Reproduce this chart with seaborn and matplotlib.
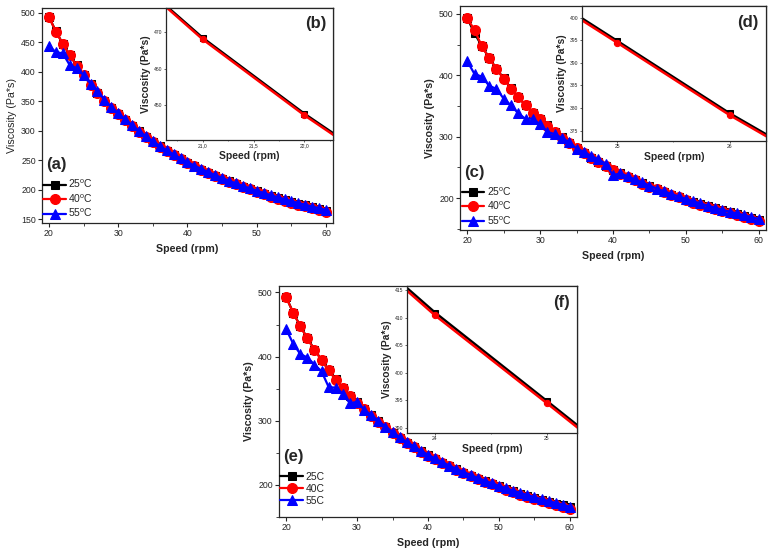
import matplotlib
matplotlib.use("Agg")
import matplotlib.pyplot as plt
from matplotlib.ticker import MultipleLocator, FixedLocator, FixedFormatter
import numpy as np
import seaborn as sns

# speed (rpm) and viscosity (Pa*s)
speed = np.arange(20, 61)

visc_25 = [493.0, 468.5, 447.6, 428.6, 410.9, 394.9, 378.8, 364.4, 351.3, 339.2,
           328.5, 318.3, 308.5, 299.0, 290.0, 281.6, 273.6, 266.1, 259.0, 252.3,
           246.0, 240.1, 234.5, 229.2, 224.1, 219.2, 214.5, 210.0, 205.7, 201.6,
           197.6, 193.8, 190.1, 186.6, 183.2, 179.9, 176.8, 173.8, 170.9, 168.1, 165.0]

visc_40 = [492.8, 468.1, 447.2, 428.2, 410.4, 394.5, 378.4, 364.0, 350.9, 338.8,
           328.1, 317.9, 308.1, 298.6, 289.6, 281.2, 273.2, 265.7, 258.6, 251.9,
           245.6, 239.7, 234.1, 228.8, 223.7, 218.8, 214.1, 209.6, 205.3, 201.2,
           196.5, 192.5, 188.7, 185.0, 181.7, 178.6, 175.2, 172.0, 168.8, 165.8, 162.6]

visc_40_c = [492.8, 474.0, 447.2, 428.2, 410.4, 394.5, 378.4, 364.0, 350.9, 338.8,
             328.1, 317.9, 308.1, 298.6, 289.6, 281.2, 273.2, 265.7, 258.6, 251.9,
             245.6, 239.7, 234.1, 228.8, 223.7, 218.8, 214.1, 209.6, 205.3, 201.2,
             196.5, 192.5, 188.7, 185.0, 181.7, 178.6, 175.2, 172.0, 168.8, 165.8, 162.6]

visc_55_a = [443.0, 433.5, 431.0, 411.5, 406.0, 394.0, 380.0, 367.0, 353.0, 340.5,
             330.0, 319.5, 309.5, 300.0, 291.0, 282.5, 274.5, 267.0, 260.0, 253.5,
             247.0, 241.2, 235.6, 230.2, 225.1, 220.2, 215.5, 211.0, 206.7, 202.6,
             198.6, 194.8, 191.1, 187.6, 184.2, 180.9, 177.8, 174.8, 171.9, 169.0, 166.0]

visc_55_c = [423.0, 402.0, 398.0, 383.0, 378.0, 362.0, 351.0, 338.0, 329.0, 329.5,
             320.0, 308.0, 304.0, 298.0, 291.0, 280.5, 275.5, 268.5, 263.0, 256.0,
             237.0, 240.5, 235.5, 230.5, 225.5, 220.5, 215.5, 211.0, 206.8, 202.7,
             198.7, 194.9, 191.2, 187.7, 184.3, 181.0, 177.9, 174.9, 172.0, 169.1, 166.0]

visc_55_e = [443.0, 420.0, 404.0, 398.5, 387.5, 377.0, 352.5, 351.5, 342.0, 327.0,
             329.5, 317.0, 309.0, 300.0, 291.0, 282.5, 274.5, 267.0, 260.0, 253.5,
             247.0, 241.2, 235.6, 230.2, 225.1, 220.2, 215.5, 211.0, 206.7, 202.6,
             198.6, 194.8, 191.1, 187.6, 184.2, 180.9, 177.8, 174.8, 171.9, 169.0, 166.0]

labels_deg = ["25$^\\mathregular{o}$C", "40$^\\mathregular{o}$C", "55$^\\mathregular{o}$C"]
labels_plain = ["25C", "40C", "55C"]

inset_b_xticks = [21.0, 21.5, 22.0]
inset_b_xlabels = ["21,0", "21,5", "22,0"]

colors = ["black", "red", "blue"]
markers = ["s", "o", "^"]
main_ms = [6.0, 7.2, 7.8]
inset_ms = [4.0, 4.5, 4.5]

sns.set_theme(style="ticks")
plt.rcParams["font.family"] = ["Liberation Sans", "DejaVu Sans"]
plt.rcParams["axes.linewidth"] = 0.9

fig = plt.figure(figsize=(7.76, 5.59), dpi=100)
W, H = 776, 559


def box(l, r, t, b):
    return [l / W, (H - b) / H, (r - l) / W, (b - t) / H]


def curves(ax, series, sizes, lw, labels=None):
    for i, vals in enumerate(series):
        sns.lineplot(x=speed, y=vals, ax=ax, color=colors[i], marker=markers[i],
                     markersize=sizes[i], markeredgecolor=colors[i], linewidth=lw,
                     label=None if labels is None else labels[i])
    if ax.get_legend() is not None:
        ax.get_legend().remove()


def main_panel(rect, series, labels, ylim, ystep, letter, letter_y, legend_y, ybold=True):
    ax = fig.add_axes(box(*rect))
    curves(ax, series, main_ms, 1.6, labels)
    ax.set_xlim(19, 61)
    ax.set_ylim(*ylim)
    ax.xaxis.set_major_locator(MultipleLocator(10))
    ax.xaxis.set_minor_locator(MultipleLocator(5))
    ax.yaxis.set_major_locator(MultipleLocator(ystep))
    ax.yaxis.set_minor_locator(MultipleLocator(50))
    ax.tick_params(which="major", direction="out", length=3, width=0.8, labelsize=6.3, pad=1.5)
    ax.tick_params(which="minor", direction="out", length=2, width=0.6)
    ax.set_xlabel("Speed (rpm)", fontsize=7.7, fontweight="bold", labelpad=4)
    ax.set_ylabel("Viscosity (Pa*s)", fontsize=7.7,
                  fontweight="bold" if ybold else "normal", labelpad=3)
    ax.text(0.015, letter_y, letter, transform=ax.transAxes,
            fontsize=12, fontweight="bold", ha="left", va="center")
    ax.legend(loc="upper left", bbox_to_anchor=(0.005, legend_y), frameon=False,
              fontsize=7.5, handlelength=2.2, handletextpad=0.2, labelspacing=0.2,
              borderpad=0, borderaxespad=0)
    return ax


def inset_panel(rect, series, xlim, ylim, xticks, xlabels, yticks, letter, ly):
    ax = fig.add_axes(box(*rect))
    curves(ax, series, inset_ms, 1.8)
    ax.set_xlim(*xlim)
    ax.set_ylim(*ylim)
    ax.xaxis.set_major_locator(FixedLocator(xticks))
    ax.xaxis.set_major_formatter(FixedFormatter(xlabels))
    ax.yaxis.set_major_locator(FixedLocator(yticks))
    step = xticks[1] - xticks[0]
    ax.xaxis.set_minor_locator(MultipleLocator(step / 2))
    ax.tick_params(which="major", direction="out", length=1.5, width=0.5, labelsize=3.6, pad=1)
    ax.tick_params(which="minor", direction="out", length=1, width=0.4)
    ax.set_xlabel("Speed (rpm)", fontsize=7.5, fontweight="bold", labelpad=2)
    ax.set_ylabel("Viscosity (Pa*s)", fontsize=7.5, fontweight="bold", labelpad=2)
    ax.text(0.96, ly, letter, transform=ax.transAxes, fontsize=12,
            fontweight="bold", ha="right", va="center")
    return ax


main_panel((42, 333, 8, 223), [visc_25, visc_40, visc_55_a], labels_deg, (144, 508), 50,
           "(a)", 0.27, 0.21, ybold=False)
main_panel((460, 766, 6, 230), [visc_25, visc_40_c, visc_55_c], labels_deg, (148, 513), 100,
           "(c)", 0.255, 0.2)
main_panel((279, 577, 286, 517), [visc_25, visc_40, visc_55_e], labels_plain, (150, 510), 100,
           "(e)", 0.26, 0.195)

# insets only show the 25 and 40 curves (the 55 curve lies below their range)
inset_panel((166, 333, 8, 140), [visc_25, visc_40], (20.64, 22.28), (440.4, 476.7),
            inset_b_xticks, inset_b_xlabels, [440, 450, 460, 470], "(b)", 0.88)
inset_panel((582, 766, 6, 141), [visc_25, visc_40_c], (24.69, 26.32), (372.7, 402.6),
            [25, 26], ["25", "26"], [375, 380, 385, 390, 395, 400], "(d)", 0.875)
inset_panel((407, 577, 286, 433), [visc_25, visc_40], (23.75, 25.27), (389.1, 415.7),
            [24, 25], ["24", "25"], [390, 395, 400, 405, 410, 415], "(f)", 0.885)

fig.savefig("out.png", dpi=100)
